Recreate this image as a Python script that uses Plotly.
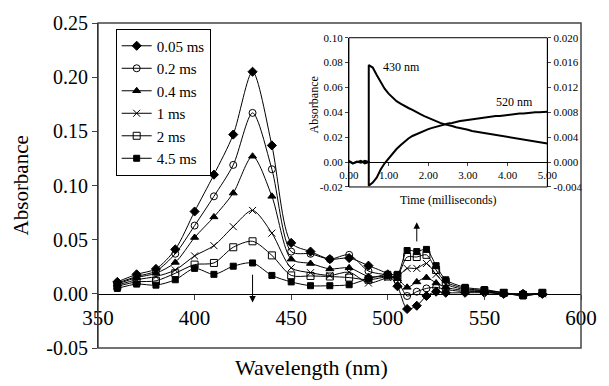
import plotly.graph_objects as go

FONT = "Liberation Serif"

wavelength = [360, 370, 380, 390, 400, 410, 420, 430, 440, 450, 460, 470, 480, 490,
              500, 505, 510, 515, 520, 525, 530, 540, 550, 560, 570, 580]

s_005 = [0.011, 0.018, 0.023, 0.041, 0.076, 0.110, 0.147, 0.205, 0.137, 0.047, 0.039, 0.032, 0.033, 0.026,
         0.018, 0.007, -0.014, -0.011, -0.002, 0.002, 0.001, 0.001, 0.001, 0.000, 0.000, 0.000]
s_02 = [0.010, 0.016, 0.021, 0.037, 0.063, 0.090, 0.119, 0.167, 0.115, 0.039, 0.037, 0.032, 0.036, 0.021,
        0.017, 0.012, -0.002, 0.002, 0.005, 0.006, 0.004, 0.002, 0.002, 0.000, 0.000, 0.000]
s_04 = [0.009, 0.015, 0.019, 0.029, 0.052, 0.071, 0.093, 0.127, 0.090, 0.032, 0.028, 0.023, 0.024, 0.016,
        0.016, 0.014, 0.006, 0.011, 0.015, 0.010, 0.006, 0.003, 0.002, 0.000, -0.001, 0.000]
s_1 = [0.008, 0.013, 0.016, 0.022, 0.035, 0.0445, 0.062, 0.077, 0.056, 0.024, 0.0195, 0.017, 0.020, 0.010,
       0.015, 0.016, 0.0235, 0.0235, 0.028, 0.018, 0.009, 0.004, 0.003, 0.001, -0.001, 0.000]
s_2 = [0.007, 0.011, 0.012, 0.019, 0.027, 0.0285, 0.043, 0.0485, 0.0355, 0.017, 0.0165, 0.016, 0.015, 0.013,
       0.016, 0.017, 0.034, 0.034, 0.036, 0.022, 0.011, 0.005, 0.003, 0.001, -0.001, 0.001]
s_45 = [0.005, 0.009, 0.008, 0.013, 0.0235, 0.018, 0.0255, 0.0285, 0.017, 0.011, 0.0075, 0.0075, 0.0084, 0.014,
        0.018, 0.018, 0.040, 0.039, 0.041, 0.026, 0.013, 0.006, 0.004, 0.001, -0.002, 0.001]

series_names = ["0.05 ms", "0.2 ms", "0.4 ms", "1 ms", "2 ms", "4.5 ms"]
series_values = [s_005, s_02, s_04, s_1, s_2, s_45]
series_symbols = ["diamond", "circle-open", "triangle-up", "x-thin-open", "square-open", "square"]

y_ticks = [-0.05, 0.00, 0.05, 0.10, 0.15, 0.20, 0.25]
y_ticklabels = ["-0.05", "0.00", "0.05", "0.10", "0.15", "0.20", "0.25"]
x_ticks = [350, 400, 450, 500, 550, 600]

# inset kinetics
time_ms = [0.0, 0.1, 0.2, 0.3, 0.4, 0.5, 0.5, 0.6, 0.7, 0.8, 0.9, 1.0, 1.1, 1.2, 1.3, 1.4, 1.5, 1.6, 1.7,
           1.8, 1.9, 2.0, 2.1, 2.2, 2.3, 2.4, 2.5, 2.6, 2.7, 2.8, 2.9, 3.0, 3.1, 3.2, 3.3, 3.4, 3.5, 3.6,
           3.7, 3.8, 3.9, 4.0, 4.1, 4.2, 4.3, 4.4, 4.5, 4.6, 4.7, 4.8, 4.9, 5.0]
abs_430 = [0.001, -0.001, 0.000, 0.001, -0.001, 0.000, 0.078, 0.076, 0.070, 0.064, 0.059, 0.055, 0.052,
           0.049, 0.047, 0.045, 0.0435, 0.042, 0.040, 0.0385, 0.037, 0.0355, 0.034, 0.033, 0.0315, 0.0305,
           0.030, 0.029, 0.028, 0.0275, 0.0265, 0.026, 0.025, 0.0245, 0.024, 0.023, 0.0225, 0.022, 0.0215,
           0.021, 0.0205, 0.020, 0.0195, 0.019, 0.0185, 0.018, 0.0175, 0.017, 0.0165, 0.016, 0.0155, 0.015]
abs_520 = [0.0001, -0.0002, 0.0001, -0.0001, 0.0002, 0.0000, -0.0038, -0.0033, -0.0025, -0.0012, -0.0002,
           0.0006, 0.0014, 0.0021, 0.0027, 0.0033, 0.0038, 0.0042, 0.0045, 0.0048, 0.0051, 0.0053, 0.0055,
           0.0057, 0.0059, 0.0060, 0.0062, 0.0063, 0.0065, 0.0066, 0.0067, 0.0068, 0.0069, 0.0070, 0.0071,
           0.0072, 0.0072, 0.0073, 0.0074, 0.0074, 0.0075, 0.0076, 0.0077, 0.0077, 0.0078, 0.0078, 0.0079,
           0.0079, 0.0080, 0.0080, 0.0081, 0.0081]
inset_x_ticks = [0, 1, 2, 3, 4, 5]
inset_x_ticklabels = ["0.00", "1.00", "2.00", "3.00", "4.00", "5.00"]
inset_yl_ticks = [-0.02, 0.00, 0.02, 0.04, 0.06, 0.08, 0.10]
inset_yl_ticklabels = ["-0.02", "0.00", "0.02", "0.04", "0.06", "0.08", "0.10"]
inset_yr_ticks = [-0.004, 0.000, 0.004, 0.008, 0.012, 0.016, 0.020]
inset_yr_ticklabels = ["-0.004", "0.000", "0.004", "0.008", "0.012", "0.016", "0.020"]

fig = go.Figure()

for name, vals, sym in zip(series_names, series_values, series_symbols):
    fig.add_trace(go.Scatter(
        x=wavelength, y=vals, name=name, mode="lines+markers",
        line=dict(color="black", width=1, shape="spline", smoothing=0.8),
        marker=dict(symbol=sym, size=7 if sym != "square" else 6, color="black",
                    line=dict(color="black", width=1)),
        xaxis="x", yaxis="y"))

fig.add_trace(go.Scatter(x=time_ms, y=abs_430, mode="lines", showlegend=False,
                         line=dict(color="black", width=2), xaxis="x2", yaxis="y2"))
fig.add_trace(go.Scatter(x=time_ms, y=abs_520, mode="lines", showlegend=False,
                         line=dict(color="black", width=2), xaxis="x2", yaxis="y3"))

ML, MR, MT, MB = 98, 19, 17, 38
inset_dom_x = [0.5195, 0.9303]
inset_dom_y = [0.4955, 0.9547]

fig.update_layout(
    width=609, height=386,
    margin=dict(l=ML, r=MR, t=MT, b=MB),
    paper_bgcolor="white", plot_bgcolor="white",
    font=dict(family=FONT, color="black"),
    showlegend=True,
    legend=dict(x=0.0366, y=0.983, xanchor="left", yanchor="top",
                bgcolor="white", bordercolor="black", borderwidth=1,
                font=dict(family=FONT, size=15), tracegroupgap=0, itemwidth=30),
    xaxis=dict(range=[350, 600], tickvals=x_ticks, showgrid=False, zeroline=False,
               showline=True, linecolor="black", linewidth=1, ticks="outside", ticklen=5,
               tickfont=dict(family=FONT, size=21), anchor="free", position=1/6, domain=[0, 1]),
    yaxis=dict(range=[-0.05, 0.25], tickvals=y_ticks, ticktext=y_ticklabels, showgrid=False,
               zeroline=False, showline=True, linecolor="black", linewidth=1, ticks="outside",
               ticklen=5, tickfont=dict(family=FONT, size=20), domain=[0, 1]),
    xaxis2=dict(range=[0, 5], tickvals=inset_x_ticks, ticktext=inset_x_ticklabels, showgrid=False,
                zeroline=False, showline=True, linecolor="black", linewidth=1, ticks="outside",
                ticklen=3, tickfont=dict(family=FONT, size=11), anchor="free",
                position=inset_dom_y[0] + (inset_dom_y[1] - inset_dom_y[0]) / 6, domain=inset_dom_x),
    yaxis2=dict(range=[-0.02, 0.10], tickvals=inset_yl_ticks, ticktext=inset_yl_ticklabels,
                showgrid=False, zeroline=False, showline=True, linecolor="black", linewidth=1,
                ticks="outside", ticklen=3, tickfont=dict(family=FONT, size=11), anchor="x2",
                domain=inset_dom_y),
    yaxis3=dict(range=[-0.004, 0.020], tickvals=inset_yr_ticks, ticktext=inset_yr_ticklabels,
                showgrid=False, zeroline=False, showline=True, linecolor="black", linewidth=1,
                ticks="outside", ticklen=3, tickfont=dict(family=FONT, size=11), overlaying="y2",
                side="right", anchor="x2"),
)

fig.add_shape(type="rect", xref="x domain", yref="y domain", x0=0, y0=0, x1=1, y1=1,
              line=dict(color="#444444", width=1.5), layer="above")
fig.add_shape(type="rect", xref="x2 domain", yref="y2 domain", x0=0, y0=0, x1=1, y1=1,
              line=dict(color="black", width=1), layer="above")

annotations = [
    dict(text="Absorbance", x=-0.1585, y=0.5015, xref="paper", yref="paper", textangle=-90,
         showarrow=False, font=dict(family=FONT, size=21), xanchor="center", yanchor="middle"),
    dict(text="Wavelength (nm)", x=0.441, y=-0.0604, xref="paper", yref="paper",
         showarrow=False, font=dict(family=FONT, size=22), xanchor="center", yanchor="middle"),
    dict(text="Absorbance", x=0.447, y=0.749, xref="paper", yref="paper", textangle=-90,
         showarrow=False, font=dict(family=FONT, size=12), xanchor="center", yanchor="middle"),
    dict(text="Time (milliseconds)", x=0.7256, y=0.456, xref="paper", yref="paper",
         showarrow=False, font=dict(family=FONT, size=12), xanchor="center", yanchor="middle"),
    dict(text="430 nm", x=1.32, y=0.0763, xref="x2", yref="y2", showarrow=False,
         font=dict(family=FONT, size=12)),
    dict(text="520 nm", x=4.17, y=0.0487, xref="x2", yref="y2", showarrow=False,
         font=dict(family=FONT, size=12)),
    dict(text="", x=430, y=-0.008, ax=430, ay=0.019, xref="x", yref="y", axref="x", ayref="y",
         showarrow=True, arrowhead=2, arrowsize=1.3, arrowwidth=1, arrowcolor="black"),
    dict(text="", x=515, y=0.066, ax=515, ay=0.047, xref="x", yref="y", axref="x", ayref="y",
         showarrow=True, arrowhead=2, arrowsize=1.3, arrowwidth=1, arrowcolor="black"),
]
fig.update_layout(annotations=annotations)

fig.write_html("out.html")
